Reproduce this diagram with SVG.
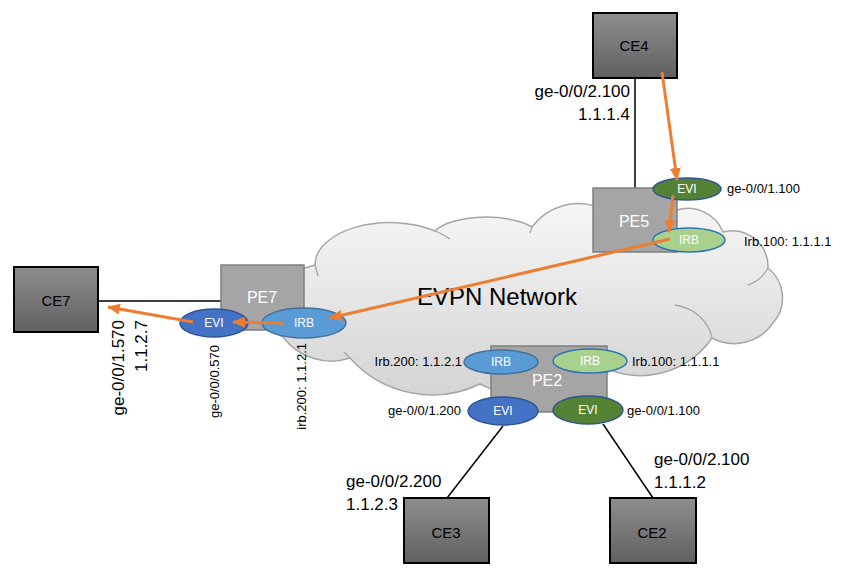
<svg xmlns="http://www.w3.org/2000/svg" width="852" height="577" viewBox="0 0 852 577">
<defs>
<linearGradient id="ceg" x1="0" y1="0" x2="0" y2="1">
<stop offset="0" stop-color="#8e8e8e"/><stop offset="1" stop-color="#606060"/>
</linearGradient>
<linearGradient id="cloudg" x1="0" y1="0" x2="0" y2="1">
<stop offset="0" stop-color="#f6f6f6"/><stop offset="1" stop-color="#d4d4d4"/>
</linearGradient>
<marker id="ah" markerWidth="13" markerHeight="11" refX="12" refY="5.5" orient="auto" markerUnits="userSpaceOnUse">
<path d="M0,0 L13,5.5 L0,11 Z" fill="#ed7d31"/>
</marker>
<style>
text{font-family:"Liberation Sans",Arial,sans-serif;}
.ce{fill:url(#ceg);stroke:#000;stroke-width:2;}
.pe{fill:#a5a5a5;stroke:#7f7f7f;stroke-width:1.5;}
.ct{font-size:15px;fill:#000;text-anchor:middle;}
.pt{font-size:16px;fill:#fff;text-anchor:middle;}
.et{font-size:12px;fill:#fff;text-anchor:middle;}
.evib{fill:#4472c4;stroke:#2f5597;stroke-width:1.5;}
.evig{fill:#548235;stroke:#2f5597;stroke-width:1.5;}
.irbb{fill:#5b9bd5;stroke:#41719c;stroke-width:1.5;}
.irbg{fill:#a9d18e;stroke:#2e75b6;stroke-width:1.5;}
.sm{font-size:13px;fill:#000;}
.big{font-size:17px;fill:#000;}
.blk{stroke:#000;stroke-width:1.5;fill:none;}
.or{stroke:#ed7d31;stroke-width:3;fill:none;marker-end:url(#ah);}
.cl{fill:url(#cloudg);stroke:#a6a6a6;stroke-width:1.5;}
.cli{fill:none;stroke:#a6a6a6;stroke-width:1.3;}
</style>
</defs>
<rect width="852" height="577" fill="#fff"/>

<g id="cloud">
<path class="cl" d="M283,337 A30,36 0 0 1 305,268 L315,265 A75,42 0 0 1 435,231 A55,22 0 0 1 532,227 A57,57 0 0 1 600,208 L677,210 A38,38 0 0 1 723,232 A36,36 0 0 1 768,268 A38,38 0 0 1 773,323 A47,47 0 0 1 712,338 A87,87 0 0 1 610,370 A120,120 0 0 1 480,384 A110,110 0 0 1 350,358 A60,60 0 0 1 283,337 Z"/>
<path class="cli" d="M315,265 L318,276"/>
<path class="cli" d="M435,231 A75,42 0 0 1 450,239"/>
<path class="cli" d="M532,227 L530,233"/>
<path class="cli" d="M768,268 A36,36 0 0 1 748,285"/>
<path class="cli" d="M675,305 A45,40 0 0 1 712,338"/>
<path class="cli" d="M350,358 L344,352"/>
<text x="497" y="305" font-size="24" fill="#000" text-anchor="middle">EVPN Network</text>
</g>

<g id="connectors">
<line class="blk" x1="635" y1="78" x2="635" y2="188"/>
<line class="blk" x1="98" y1="301" x2="221" y2="301"/>
<line class="blk" x1="503" y1="426" x2="447" y2="498"/>
<line class="blk" x1="603" y1="424" x2="653" y2="498"/>
</g>

<g id="CE4">
<rect class="ce" x="593" y="13" width="84" height="65"/>
<text class="ct" x="634" y="51">CE4</text>
<text class="big" x="630" y="97" text-anchor="end">ge-0/0/2.100</text>
<text class="big" x="630" y="120" text-anchor="end">1.1.1.4</text>
</g>

<g id="CE7">
<rect class="ce" x="14" y="267" width="84" height="65"/>
<text class="ct" x="56" y="306">CE7</text>
<text class="big" transform="translate(124,320) rotate(-90)" text-anchor="end">ge-0/0/1.570</text>
<text class="big" transform="translate(147,320) rotate(-90)" text-anchor="end">1.1.2.7</text>
</g>

<g id="CE3">
<rect class="ce" x="404" y="498" width="85" height="65"/>
<text class="ct" x="446" y="538">CE3</text>
<text class="big" x="346" y="487">ge-0/0/2.200</text>
<text class="big" x="346" y="510">1.1.2.3</text>
</g>

<g id="CE2">
<rect class="ce" x="610" y="498" width="86" height="65"/>
<text class="ct" x="652" y="538">CE2</text>
<text class="big" x="654" y="465">ge-0/0/2.100</text>
<text class="big" x="654" y="488">1.1.1.2</text>
</g>

<g id="PE5">
<rect class="pe" x="593" y="188" width="84" height="64"/>
<text class="pt" x="634" y="227">PE5</text>
<ellipse class="evig" cx="687" cy="189" rx="34" ry="11"/>
<text class="et" x="687" y="193">EVI</text>
<ellipse class="irbg" cx="689" cy="240" rx="36" ry="12"/>
<text class="et" x="689" y="244">IRB</text>
<text class="sm" x="727" y="193">ge-0/0/1.100</text>
<text class="sm" x="744" y="246">Irb.100: 1.1.1.1</text>
</g>

<g id="PE7">
<rect class="pe" x="221" y="265" width="83" height="65"/>
<text class="pt" x="262" y="303">PE7</text>
<ellipse class="evib" cx="214" cy="323" rx="34" ry="14"/>
<text class="et" x="214" y="327">EVI</text>
<ellipse class="irbb" cx="304" cy="323" rx="42" ry="15"/>
<text class="et" x="304" y="327">IRB</text>
<text class="sm" transform="translate(219,345) rotate(-90)" text-anchor="end">ge-0/0/0.570</text>
<text class="sm" transform="translate(306,343) rotate(-90)" text-anchor="end">irb.200: 1.1.2.1</text>
</g>

<g id="PE2">
<rect class="pe" x="491" y="346" width="116" height="66"/>
<text class="pt" x="547" y="386">PE2</text>
<ellipse class="irbb" cx="501" cy="362" rx="37" ry="12"/>
<text class="et" x="501" y="366">IRB</text>
<ellipse class="irbg" cx="590" cy="361" rx="37" ry="12"/>
<text class="et" x="590" y="365">IRB</text>
<ellipse class="evib" cx="503" cy="411" rx="35" ry="14"/>
<text class="et" x="503" y="415">EVI</text>
<ellipse class="evig" cx="588" cy="410" rx="35" ry="14"/>
<text class="et" x="588" y="414">EVI</text>
<text class="sm" x="462" y="366" text-anchor="end">Irb.200: 1.1.2.1</text>
<text class="sm" x="632" y="366">Irb.100: 1.1.1.1</text>
<text class="sm" x="461" y="415" text-anchor="end">ge-0/0/1.200</text>
<text class="sm" x="627" y="415">ge-0/0/1.100</text>
</g>

<g id="flow">
<line class="or" x1="662" y1="72" x2="677" y2="180"/>
<line class="or" x1="673" y1="195" x2="669" y2="232"/>
<line class="or" x1="670" y1="239" x2="330" y2="318"/>
<line class="or" x1="283" y1="323" x2="233" y2="322"/>
<line class="or" x1="193" y1="322" x2="108" y2="307"/>
</g>
</svg>
